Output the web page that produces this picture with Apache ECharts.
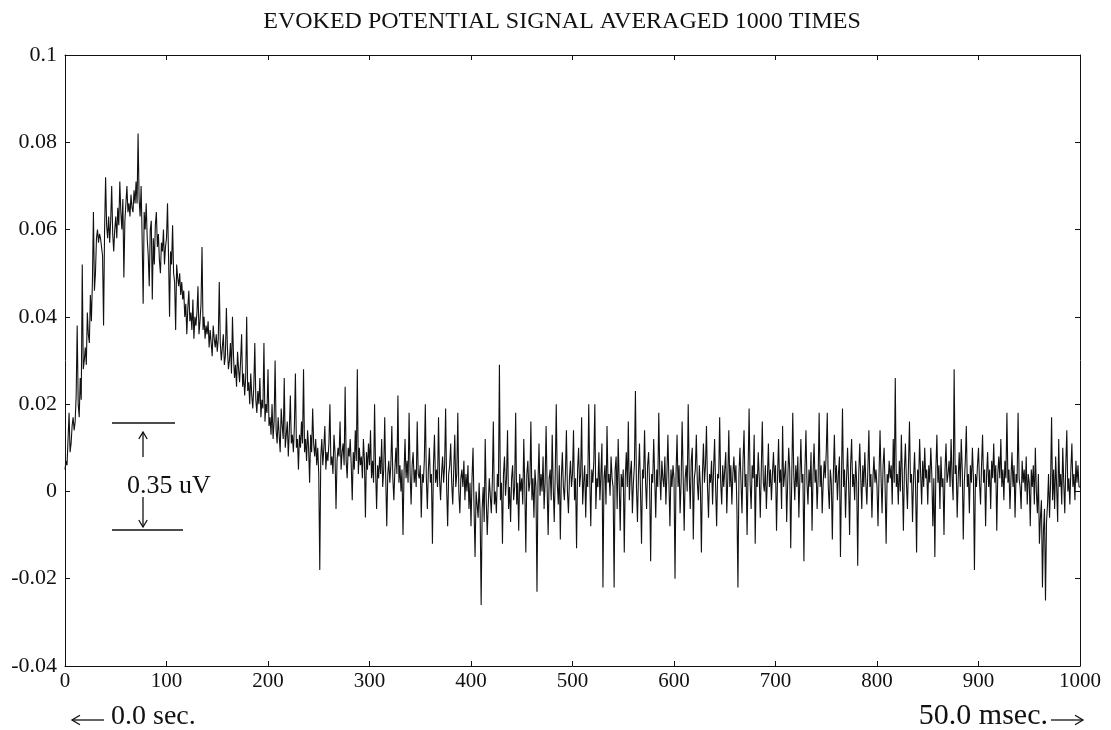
<!DOCTYPE html>
<html>
<head>
<meta charset="utf-8">
<title>Evoked potential</title>
<script src="https://cdn.jsdelivr.net/npm/echarts@6/dist/echarts.min.js"></script>
<style>
  html, body { margin: 0; padding: 0; background: #fff; }
  #chart { width: 1111px; height: 730px; }
</style>
</head>
<body>
<div id="chart"></div>
<script>
// averaged signal, one value per sample (0..1000)
const signal = [
  .005, .007, .006, .012, .018, .009, .011, .015, .017, .014, .016, .022, .038, .020, .017, .026, .021, .052, .028, .030, .033, .029, .041, .036, .034, .045, .039, .048, .064, .046, .050, .058, .060, .057, .059, .058, .056, .054, .038, .060, .072, .061, .058, .063, .057, .062, .070, .059, .055, .060,
  .063, .058, .065, .061, .071, .064, .060, .067, .049, .062, .066, .070, .064, .066, .063, .068, .065, .064, .069, .066, .071, .066, .082, .067, .063, .070, .058, .043, .064, .060, .066, .058, .054, .047, .060, .062, .044, .058, .052, .061, .064, .056, .059, .053, .050, .057, .055, .060, .052, .056,
  .058, .066, .054, .040, .055, .052, .061, .050, .048, .037, .052, .049, .047, .050, .045, .048, .044, .046, .040, .043, .036, .042, .046, .039, .041, .037, .044, .035, .040, .038, .041, .047, .036, .039, .043, .056, .037, .040, .035, .038, .036, .039, .033, .037, .034, .031, .038, .035, .033, .036,
  .032, .035, .048, .034, .030, .033, .036, .029, .031, .042, .033, .028, .030, .034, .027, .040, .031, .026, .029, .024, .032, .028, .025, .030, .036, .024, .027, .022, .026, .040, .023, .025, .020, .027, .022, .019, .024, .034, .021, .018, .023, .020, .026, .017, .021, .019, .034, .016, .020, .018,
  .028, .015, .017, .013, .020, .012, .016, .030, .014, .011, .017, .013, .009, .019, .015, .012, .026, .010, .013, .016, .008, .014, .022, .011, .013, .009, .015, .027, .010, .012, .005, .013, .010, .016, .011, .028, .009, .012, .007, .014, .010, .002, .013, .009, .019, .011, .008, .012, .006, .010,
  .004, -.018, .008, .012, .006, .010, .015, .005, .009, .007, .011, .020, .006, .008, .004, .013, .009, -.004, .007, .010, .008, .016, .005, .009, .011, .006, .024, .007, .003, .010, .008, .012, .006, -.002, .009, .005, .014, .007, .028, .004, .010, .006, .008, .003, .012, .007, -.006, .009, .005, .011,
  .006, .014, .003, .007, .002, .020, .005, -.004, .006, .003, .008, .004, .012, .001, .005, .017, .003, -.008, .004, .007, .002, .006, .015, .003, -.002, .005, .010, .004, .022, .002, .006, .000, .005, -.010, .004, .012, .003, .007, .002, .018, .004, -.003, .006, .009, .002, .005, .001, .016, .004, .003,
  .006, -.006, .004, .002, .007, .020, .003, -.004, .005, .010, .002, .004, -.012, .006, .013, .002, .005, .001, .017, .003, -.002, .004, .008, .002, .006, .019, .001, -.008, .004, .006, .011, .002, -.003, .005, .013, .001, .004, .018, .000, -.005, .003, .005, .001, .007, -.002, .004, .000, .006, -.004, .002,
  -.008, .003, .010, -.004, -.015, .000, -.003, -.006, .002, -.005, -.026, -.004, .001, -.007, .012, -.002, -.010, -.003, .003, -.001, -.005, .002, .016, -.003, .000, -.005, .004, .001, .029, -.002, .002, -.012, .004, .008, -.001, .003, .014, -.004, .001, -.007, .003, .006, -.002, .001, .018, -.003, .002, -.009, .004, .000,
  .003, -.003, .012, .001, -.014, .004, .007, .000, .002, .016, -.002, .003, -.006, .005, .001, -.023, .002, .011, -.001, .004, .000, .008, -.004, .002, .015, .001, -.010, .003, .005, -.002, .013, .001, -.007, .004, .020, .002, -.003, .006, -.011, .003, .009, .001, -.002, .004, .014, .000, -.005, .003, .007, .001,
  .004, .014, -.002, .003, -.013, .005, .010, .001, .004, .017, -.003, .002, .006, -.006, .004, .001, .020, .003, -.008, .005, .002, .007, .020, -.004, .003, .001, .009, -.002, .004, .011, -.022, .003, .006, -.003, .015, .002, .004, -.001, .008, .003, .001, -.022, .005, .008, -.004, .012, .002, -.009, .004, .001,
  .005, -.014, .003, .009, .001, .016, -.002, .004, .007, -.005, .002, .006, .023, .001, -.007, .004, .011, .000, -.012, .005, .003, .014, .002, -.004, .006, .009, .001, -.016, .004, .002, .012, .003, -.006, .005, .001, .018, .004, -.002, .007, .003, .001, .008, -.003, .004, .013, .002, -.008, .005, .001, .006,
  .003, -.020, .004, .013, .001, .006, -.005, .002, .016, .004, -.009, .003, .006, .000, .020, .004, -.004, .007, .010, -.011, .003, .005, .013, .002, -.002, .006, .001, -.014, .004, .011, .002, .006, .015, .001, -.006, .004, .002, .007, -.003, .005, .012, .001, -.008, .004, .003, .017, .002, -.003, .006, .001,
  .005, .009, -.005, .003, .014, .001, .006, -.003, .004, .008, .002, .006, -.004, -.022, .004, .010, .002, -.005, .007, .014, .001, .004, -.010, .005, .019, .002, -.004, .006, .003, .013, -.012, .004, .001, .009, .003, -.006, .005, .016, .002, .000, .006, -.004, .003, .011, .001, .005, -.002, .004, .009, .002,
  .006, -.009, .003, .012, .002, .005, -.004, .015, .001, .004, .007, -.007, .002, .010, .005, -.013, .003, .018, .004, -.002, .006, .001, .008, -.006, .003, .012, .002, .004, -.016, .005, .014, .002, -.003, .005, .001, .009, -.009, .004, .011, .002, .005, -.004, .003, .018, .001, .006, -.005, .002, .007, .003,
  .009, .018, .001, -.004, .005, .002, -.011, .004, .013, .002, .006, -.002, .004, .008, -.015, .003, .019, .001, .005, -.006, .003, .010, .002, -.010, .006, .012, .001, .004, -.002, .007, .002, -.017, .004, .011, .003, -.004, .006, .001, .009, .002, -.003, .005, .014, .001, .004, -.006, .003, .008, .002, .005,
  .001, -.008, .004, .014, .003, -.005, .006, .010, .001, -.012, .004, .002, .007, .003, .006, -.003, .012, .002, .026, .001, .004, -.003, .007, .000, .013, .003, -.009, .005, .011, .002, -.004, .006, .016, .002, .004, -.007, .003, .009, .001, -.014, .005, .002, .012, .004, -.003, .007, .001, .010, .003, .005,
  -.003, .006, .002, .010, .004, -.008, .003, -.015, .005, .013, .002, .006, -.004, .008, .001, .003, -.010, .005, .011, .002, .004, .007, .001, .012, .003, -.002, .028, .004, .006, -.006, .003, .009, .001, .012, .005, -.011, .002, .007, .015, .001, .004, -.005, .006, .002, .010, .003, -.018, .004, .001, .006,
  .010, .002, -.003, .006, .013, .002, .005, -.008, .004, .009, .001, .005, -.004, .007, .003, .011, .002, .006, -.009, .004, .008, .003, .012, .001, .005, -.002, .007, .003, .018, .002, .005, -.004, .003, .009, .001, .006, -.006, .004, .002, .018, .003, .001, -.004, .007, .002, .005, .000, .008, -.003, .004,
  .002, -.008, .005, .001, .006, -.003, .010, .000, -.005, .004, -.012, -.006, -.002, -.022, -.009, -.004, -.025, -.007, -.003, .004, -.006, .002, .017, -.002, .005, -.004, .008, .001, -.007, .012, .001, .004, -.003, .010, .002, -.005, .006, .014, .000, .003, -.003, .005, .011, .001, .004, -.002, .007, .002, .006, .001,
  .001
];

const xTicks = [0, 100, 200, 300, 400, 500, 600, 700, 800, 900, 1000];
const yTicks = [-0.04, -0.02, 0, 0.02, 0.04, 0.06, 0.08, 0.1];

const serif = '"Liberation Serif", "DejaVu Serif", serif';

const myChart = echarts.init(document.getElementById('chart'));

const points = signal.map((v, i) => [i, v]);

const axisLine = { show: true, onZero: false, lineStyle: { color: '#111', width: 1 } };
const tickStyle = { show: true, inside: true, length: 5, lineStyle: { color: '#111' } };

const xRange = { min: xTicks[0], max: xTicks[xTicks.length - 1], interval: xTicks[1] - xTicks[0] };
const yRange = { min: yTicks[0], max: yTicks[yTicks.length - 1], interval: yTicks[1] - yTicks[0] };

// small helper for the hand drawn arrows of the annotations
const arrow = (x1, y1, x2, y2, head) => {
  const dx = x2 - x1, dy = y2 - y1;
  const len = Math.sqrt(dx * dx + dy * dy);
  const ux = dx / len, uy = dy / len;
  return [
    { type: 'line', shape: { x1, y1, x2, y2 }, style: { stroke: '#111', lineWidth: 1.3 } },
    {
      type: 'polyline',
      shape: { points: [
        [x2 - ux * head + uy * head * 0.6, y2 - uy * head - ux * head * 0.6],
        [x2, y2],
        [x2 - ux * head - uy * head * 0.6, y2 - uy * head + ux * head * 0.6]
      ] },
      style: { stroke: '#111', lineWidth: 1.3, fill: null }
    }
  ];
};

const option = {
  animation: false,
  backgroundColor: '#fff',
  grid: { left: 65, right: 31, top: 55, bottom: 64, containLabel: false },
  xAxis: [
    {
      type: 'value', position: 'bottom', ...xRange,
      axisLine: axisLine, axisTick: tickStyle, splitLine: { show: false },
      axisLabel: { color: '#111', fontFamily: serif, fontSize: 21, margin: 5, formatter: v => String(v) }
    },
    {
      type: 'value', position: 'top', ...xRange,
      axisLine: axisLine, axisTick: tickStyle, splitLine: { show: false }, axisLabel: { show: false }
    }
  ],
  yAxis: [
    {
      type: 'value', position: 'left', ...yRange,
      axisLine: axisLine, axisTick: tickStyle, splitLine: { show: false },
      axisLabel: {
        color: '#111', fontFamily: serif, fontSize: 22, margin: 8,
        formatter: v => String(Math.round(v * 100) / 100)
      }
    },
    {
      type: 'value', position: 'right', ...yRange,
      axisLine: axisLine, axisTick: tickStyle, splitLine: { show: false }, axisLabel: { show: false }
    }
  ],
  series: [
    {
      type: 'line',
      data: points,
      showSymbol: false,
      smooth: false,
      lineStyle: { color: '#111', width: 1.1 }
    }
  ],
  graphic: [
    // title
    { type: 'text', x: 562, y: 22, style: { text: 'EVOKED POTENTIAL SIGNAL AVERAGED 1000 TIMES', font: '24px ' + serif, fill: '#111', textAlign: 'center', textVerticalAlign: 'middle' } },
    // 0.35 uV scale marker
    { type: 'line', shape: { x1: 112, y1: 423, x2: 175, y2: 423 }, style: { stroke: '#111', lineWidth: 1.5 } },
    { type: 'line', shape: { x1: 112, y1: 530, x2: 183, y2: 530 }, style: { stroke: '#111', lineWidth: 1.5 } },
    ...arrow(143, 457, 143, 432, 7),
    ...arrow(143, 497, 143, 527, 7),
    { type: 'text', x: 127, y: 486, style: { text: '0.35 uV', font: '26px ' + serif, fill: '#111', textVerticalAlign: 'middle' } },
    // time annotations under the axis
    ...arrow(104, 720, 72, 720, 8),
    { type: 'text', x: 111, y: 717, style: { text: '0.0 sec.', font: '28px ' + serif, fill: '#111', textVerticalAlign: 'middle' } },
    { type: 'text', x: 1048, y: 716, style: { text: '50.0 msec.', font: '30px ' + serif, fill: '#111', textAlign: 'right', textVerticalAlign: 'middle' } },
    ...arrow(1051, 720, 1083, 720, 8)
  ]
};

myChart.setOption(option);
</script>
</body>
</html>
